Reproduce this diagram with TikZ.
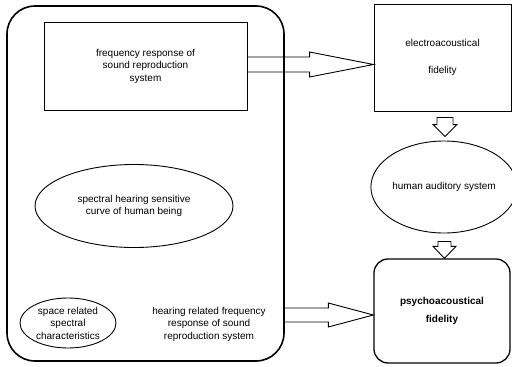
\documentclass[tikz,border=0pt]{standalone}
\usepackage{fontspec}
\setmainfont{Liberation Sans}
\usetikzlibrary{calc,shapes.geometric}

% horizontal block arrow: start, tip, half shaft, half head, head length
\newcommand{\harrow}[5]{%
  \draw[blockarrow] ($(#1)+(0,-#3)$) -- ($(#2)+(-#5,-#3)$) -- ($(#2)+(-#5,-#4)$)
    -- (#2) -- ($(#2)+(-#5,#4)$) -- ($(#2)+(-#5,#3)$) -- ($(#1)+(0,#3)$);}
% vertical (downward) block arrow: top, tip, half shaft, half head, head length
\newcommand{\varrow}[5]{%
  \draw[blockarrow] ($(#1)+(-#3,0)$) -- ($(#2)+(-#3,-#5)$) -- ($(#2)+(-#4,-#5)$)
    -- (#2) -- ($(#2)+(#4,-#5)$) -- ($(#2)+(#3,-#5)$) -- ($(#1)+(#3,0)$) -- cycle;}

\begin{document}
\begin{tikzpicture}[x=1pt,y=-1pt,
  every node/.style={font=\fontsize{10}{12.5}\selectfont, align=center, inner sep=0pt},
  box/.style={draw, line width=0.9pt, rectangle},
  roundbox/.style={draw, line width=1.3pt, rectangle, rounded corners=14pt},
  oval/.style={draw, line width=0.9pt, ellipse},
  blockarrow/.style={draw, line width=0.9pt, line join=miter}]
\useasboundingbox (0,0) rectangle (512,367);

% outer rounded frame
\node[draw, line width=1.6pt, rounded corners=28pt, minimum width=277pt, minimum height=355pt]
  (frame) at (145.5,183.5) {};

\node[box, minimum width=203pt, minimum height=88pt] (resp) at (145.5,66)
  {frequency response of\\sound reproduction\\system};

\node[oval, minimum width=198pt, minimum height=83pt] (curve) at (134,206)
  {spectral hearing sensitive\\curve of human being};

\node[oval, minimum width=96pt, minimum height=50pt] (space) at (68,323)
  {space related\\spectral\\characteristics};

\node (hear) at (209,324)
  {hearing related frequency\\response of sound\\reproduction system};

\node[box, minimum width=137pt, minimum height=107pt] (elec) at (442.5,57.5)
  {electroacoustical\\[14pt]fidelity};

\node[oval, minimum width=136pt, minimum height=92pt] (aud) at (444,187)
  {human auditory system};

\node[roundbox, minimum width=136pt, minimum height=104pt] (psy) at (442,311)
  {\bfseries psychoacoustical\\[5pt]\bfseries fidelity};

% arrow end points
\coordinate (a1s) at (resp.east |- 0,64.5);
\coordinate (a1e) at (elec.west |- 0,64.5);
\coordinate (a2s) at (frame.east |- 0,315);
\coordinate (a2e) at (psy.west |- 0,315);
\coordinate (d1s) at ($(elec.south)+(2.5,6)$);
\coordinate (d1e) at ($(aud.north)+(1,-4)$);
\coordinate (d2s) at ($(aud.south)+(0.5,8)$);
\coordinate (d2e) at ($(psy.north)+(2.5,0)$);

\harrow{a1s}{a1e}{7.5}{12.5}{64}
\harrow{a2s}{a2e}{7}{12}{45}
\varrow{d1s}{d1e}{8}{12}{12}
\varrow{d2s}{d2e}{6.5}{11.5}{12}
\end{tikzpicture}
\end{document}
